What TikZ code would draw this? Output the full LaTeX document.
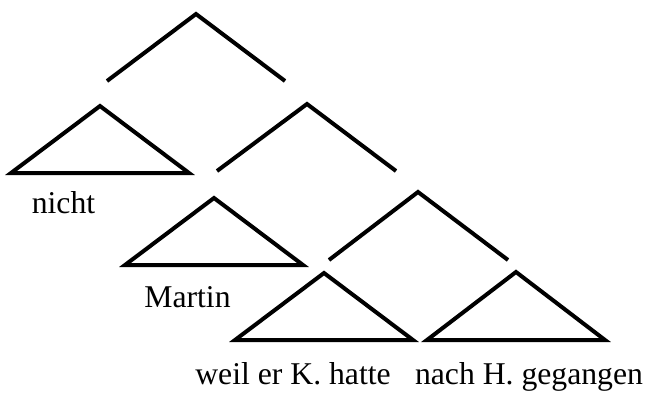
\documentclass[tikz,border=0pt]{standalone}
\usepackage{fontspec}
\setmainfont{Liberation Serif}
\begin{document}
\begin{tikzpicture}[x=1pt,y=-1pt,
  branch/.style={line width=4pt,line cap=butt},
  roof/.style={line width=4pt,line join=miter},
  leaf/.style={anchor=base,inner sep=0pt,font=\fontsize{31.7}{36}\selectfont}]
\useasboundingbox (0,0) rectangle (645,392);

% top branching
\coordinate (r)  at (196,14);
\coordinate (rl) at (107,81);
\coordinate (rr) at (285,81);
\draw[branch] (rl) -- (r) -- (rr);

% roof over "nicht"
\coordinate (t1) at (100,106);
\coordinate (t1l) at (11,173);
\coordinate (t1r) at (189,173);
\draw[roof] (t1) -- (t1l) -- (t1r) -- cycle;
\node[leaf] (nicht) at (63.5,213) {nicht};

% second branching
\coordinate (b2)  at (307,104);
\coordinate (b2l) at (217,171);
\coordinate (b2r) at (396,171);
\draw[branch] (b2l) -- (b2) -- (b2r);

% roof over "Martin"
\coordinate (t2) at (214,198);
\coordinate (t2l) at (125,265);
\coordinate (t2r) at (303,265);
\draw[roof] (t2) -- (t2l) -- (t2r) -- cycle;
\node[leaf] (martin) at (187.5,307) {Martin};

% third branching
\coordinate (b3)  at (418,192);
\coordinate (b3l) at (329,260);
\coordinate (b3r) at (508,260);
\draw[branch] (b3l) -- (b3) -- (b3r);

% roofs over the two clauses
\coordinate (t3) at (324,273);
\coordinate (t3l) at (235,340);
\coordinate (t3r) at (413,340);
\draw[roof] (t3) -- (t3l) -- (t3r) -- cycle;
\node[leaf] (weil) at (293,384) {weil er K. hatte};

\coordinate (t4) at (516,272);
\coordinate (t4l) at (427,340);
\coordinate (t4r) at (605,340);
\draw[roof] (t4) -- (t4l) -- (t4r) -- cycle;
\node[leaf] (nach) at (529,384) {nach H. gegangen};
\end{tikzpicture}
\end{document}
